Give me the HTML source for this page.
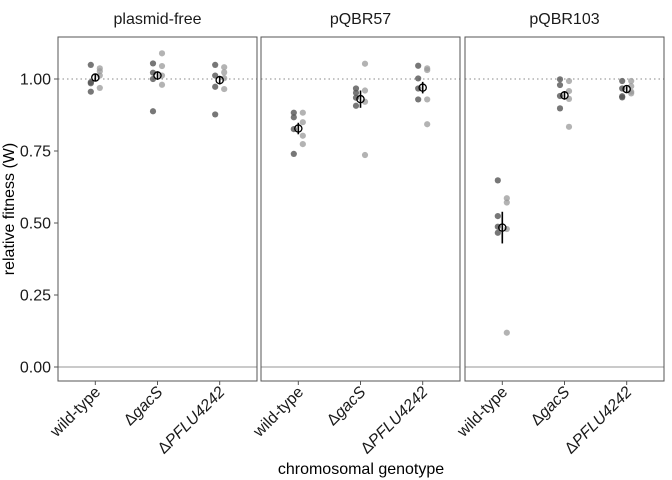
<!DOCTYPE html>
<html><head><meta charset="utf-8">
<style>
html,body{margin:0;padding:0;background:#fff;}
svg{display:block;font-family:"Liberation Sans",Arial,sans-serif;}
</style></head>
<body>
<svg id="chart" width="672" height="480" viewBox="0 0 672 480"></svg>
<script>
const panels = ["plasmid-free","pQBR57","pQBR103"];
const genotypes = ["wild-type","gacS","PFLU4242"];
const yTicks = [0,0.25,0.5,0.75,1.0];
const yTickLabels = ["0.00","0.25","0.50","0.75","1.00"];
// replicate values per panel/genotype: dark (series A) and light (series B)
const darkVals = [
  [[1.049,0.989,0.985,0.956],[1.054,1.022,1.0,0.888],[1.049,1.012,0.973,0.877]],
  [[0.883,0.867,0.826,0.740],[0.967,0.952,0.935,0.907],[1.046,1.002,0.967,0.929]],
  [[0.648,0.524,0.487,0.466],[0.999,0.979,0.941,0.898],[0.993,0.967,0.936,0.940]]
];
const lightVals = [
  [[1.037,1.027,1.012,0.969],[1.089,1.045,1.012,0.980],[1.041,1.023,1.003,0.965]],
  [[0.883,0.850,0.803,0.774],[1.053,0.960,0.921,0.736],[1.037,1.031,0.929,0.843]],
  [[0.586,0.571,0.479,0.119],[0.993,0.958,0.931,0.834],[0.993,0.956,0.950,0.975]]
];
const means = [[1.005,1.012,0.996],[0.828,0.930,0.970],[0.484,0.943,0.965]];
const ses = [[0.012,0.015,0.015],[0.02,0.03,0.02],[0.055,0.015,0.01]];

const NS="http://www.w3.org/2000/svg";
const svgRoot=document.getElementById('chart');
function mk(tag,attrs,parent){const e=document.createElementNS(NS,tag);for(const k in attrs)e.setAttribute(k,attrs[k]);(parent||svgRoot).appendChild(e);return e;}
const panelX=[58,261,465], panelW=199, plotTop=37, plotBottom=381;
const yScale=v=>367-288*v;
const xScale=(p,i)=>panelX[p]+panelW*(0.6+i)/3.2;
const FS=16;

panels.forEach((pn,p)=>{
  const g=mk('g',{});
  
  
  const t=mk('text',{x:panelX[p]+panelW/2,y:24,'text-anchor':'middle','font-size':FS,fill:'#1a1a1a'},g);
  t.textContent=pn;
  
  
  const l1=mk('line',{x1:panelX[p],x2:panelX[p]+panelW,y1:yScale(1),y2:yScale(1),stroke:'#888','stroke-dasharray':'1.5 3','stroke-width':1},g);
  
  
  const l0=mk('line',{x1:panelX[p],x2:panelX[p]+panelW,y1:yScale(0),y2:yScale(0),stroke:'#aaa','stroke-width':1.3},g);
  
  
  genotypes.forEach((gn,i)=>{
    const cx=xScale(p,i);
    darkVals[p][i].forEach(v=>{
      const c=mk('circle',{cx:cx-4.5,cy:yScale(v),r:3.1,fill:'#555','fill-opacity':0.8},g);
      
      
    });
    lightVals[p][i].forEach(v=>{
      const c=mk('circle',{cx:cx+4.5,cy:yScale(v),r:3.1,fill:'#999','fill-opacity':0.75},g);
      
      
    });
    const m=means[p][i], s=ses[p][i];
    const eb=mk('line',{x1:cx,x2:cx,y1:yScale(m+s),y2:yScale(m-s),stroke:'#000','stroke-width':1.6},g);
    
    
    const mc=mk('circle',{cx:cx,cy:yScale(m),r:3.6,fill:'none',stroke:'#000','stroke-width':1.3},g);
    
    
    const tk=mk('line',{x1:cx,x2:cx,y1:plotBottom,y2:plotBottom+4,stroke:'#555','stroke-width':1},g);
    
    
    const tx=cx+6, ty=plotBottom+12;
    const lab=mk('text',{x:tx,y:ty,'text-anchor':'end','font-size':FS,fill:'#1a1a1a',transform:`rotate(-45 ${tx} ${ty})`},g);
    if(i===0){lab.textContent='wild-type';}
    else{lab.textContent='Δ';const ts=mk('tspan',{'font-style':'italic'},lab);ts.textContent=gn;}
    
    
  });
  const fr=mk('rect',{x:panelX[p],y:plotTop,width:panelW,height:plotBottom-plotTop,fill:'none',stroke:'#555','stroke-width':1},g);
  
  
});
yTicks.forEach((v,k)=>{
  const tk=mk('line',{x1:54,x2:58,y1:yScale(v),y2:yScale(v),stroke:'#555','stroke-width':1});
  
  
  const t=mk('text',{x:51,y:yScale(v)+5.5,'text-anchor':'end','font-size':FS,fill:'#1a1a1a'});
  t.textContent=yTickLabels[k];
  
  
});
const yt=mk('text',{x:14,y:209,'text-anchor':'middle','font-size':FS,fill:'#000',transform:'rotate(-90 14 209)'});
yt.textContent='relative fitness (W)';


const xt=mk('text',{x:361,y:474,'text-anchor':'middle','font-size':FS,fill:'#000'});
xt.textContent='chromosomal genotype';


</script>
</body></html>
